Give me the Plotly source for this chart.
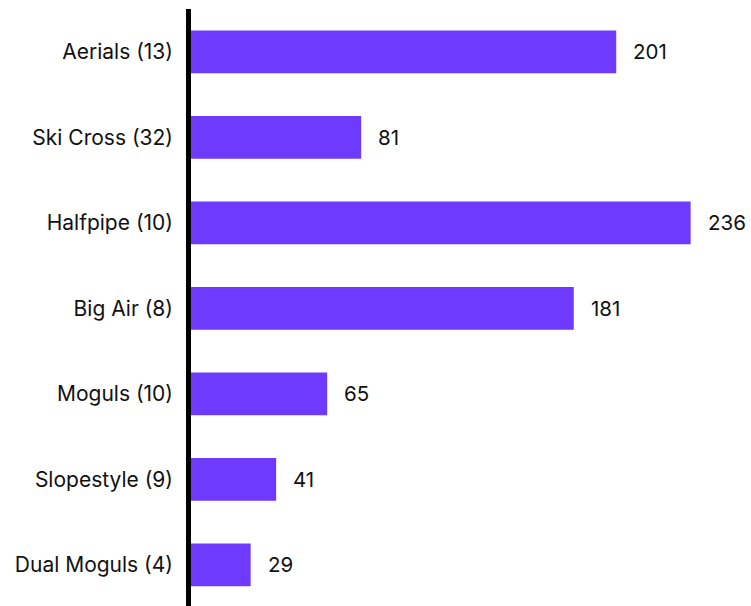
import plotly.graph_objects as go

# Freestyle skiing events: event name, number of competitors, total score
events = ["Aerials", "Ski Cross", "Halfpipe", "Big Air", "Moguls", "Slopestyle", "Dual Moguls"]
counts = [13, 32, 10, 8, 10, 9, 4]
totals = [201, 81, 236, 181, 65, 41, 29]

labels = [f"{e} ({c})" for e, c in zip(events, counts)]
positions = list(range(len(labels)))

BAR_COLOR = "#6F3AFF"
FONT = "Inter, Roboto, sans-serif"
TEXT_COLOR = "#111111"

fig = go.Figure(
    go.Bar(
        x=totals,
        y=positions,
        orientation="h",
        width=0.5,
        marker=dict(color=BAR_COLOR, line=dict(width=0)),
        hoverinfo="skip",
    )
)

# value labels to the right of each bar
for pos, val in zip(positions, totals):
    fig.add_annotation(
        x=val, y=pos, text=str(val), showarrow=False,
        xanchor="left", yanchor="middle", xshift=15,
        font=dict(family=FONT, size=20.5, color=TEXT_COLOR),
    )

# thick baseline at the left edge of the plot, drawn over the bar starts
fig.add_shape(
    type="line", xref="paper", yref="paper",
    x0=-0.0009, x1=-0.0009, y0=0, y1=1,
    line=dict(color="black", width=5),
    layer="above",
)

fig.update_layout(
    width=751, height=606,
    margin=dict(l=189, r=0, t=9, b=0),
    paper_bgcolor="white", plot_bgcolor="white",
    showlegend=False,
    font=dict(family=FONT, size=21, color=TEXT_COLOR),
    xaxis=dict(range=[0, 264.4], visible=False, showgrid=False, zeroline=False),
    yaxis=dict(
        range=[6.482, -0.5],
        tickmode="array", tickvals=positions, ticktext=labels,
        showline=False, showgrid=False, zeroline=False, ticks="",
        ticklabelstandoff=15,
    ),
)

fig.write_html("out.html")
